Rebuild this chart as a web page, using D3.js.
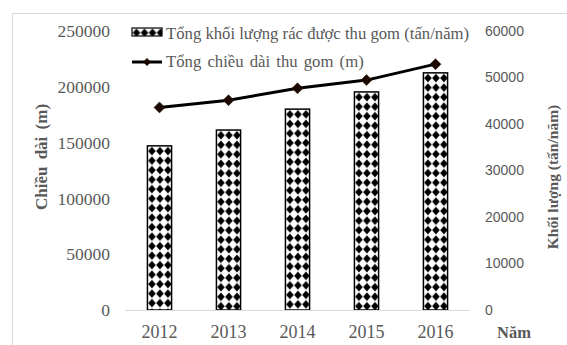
<!DOCTYPE html>
<html><head><meta charset="utf-8">
<script src="https://cdn.jsdelivr.net/npm/d3@7"></script>
<style>
html,body{margin:0;padding:0;background:#fff;}
svg{display:block;}
</style></head>
<body>
<svg id="chart" width="567" height="345"></svg>
<script>
const categories = ["2012","2013","2014","2015","2016"];
const volumeValues = [35300, 38700, 43200, 46900, 51000];      // Tổng khối lượng rác (tấn/năm) – right axis
const lengthValues = [181500, 188000, 198700, 206000, 220300];  // Tổng chiều dài thu gom (m) – left axis
const leftTicks = [0, 50000, 100000, 150000, 200000, 250000];
const rightTicks = [0, 10000, 20000, 30000, 40000, 50000, 60000];
const legendLabels = ["Tổng khối lượng rác được thu gom (tấn/năm)", "Tổng chiều dài thu gom (m)"];

const serif = "Liberation Serif, Times New Roman, serif";
const sans = "Liberation Sans, Arial, sans-serif";
const svg = d3.select("#chart");

// chart frame
svg.append("rect").attr("x",12.5).attr("y",13.5).attr("width",600).attr("height",400)
  .attr("fill","none").attr("stroke","#d9d9d9").attr("stroke-width",1);

const x = d3.scaleBand().domain(categories).range([125, 470]).paddingInner(0.65).paddingOuter(0.325);
const yL = d3.scaleLinear().domain([0, 250000]).range([310, 31]);
const yR = d3.scaleLinear().domain([0, 60000]).range([310, 31]);

const defs = svg.append("defs");
function makePattern(id, x0, y0){
  const p = defs.append("pattern").attr("id", id).attr("patternUnits","userSpaceOnUse")
    .attr("x", x0).attr("y", y0).attr("width", 8).attr("height", 9.5);
  p.append("rect").attr("width",8).attr("height",9.5).attr("fill","#fff");
  p.append("path").attr("d","M4,0.5 L7.8,4.75 L4,9 L0.2,4.75 Z").attr("fill","#000");
}

// bars
const barData = categories.map((c,i)=>({c, v: volumeValues[i], i}));
barData.forEach(d => makePattern("pat"+d.i, x(d.c)+0.5, yR(d.v)+0.5));
svg.append("g").selectAll("rect").data(barData).join("rect")
  .attr("x", d => x(d.c)).attr("y", d => yR(d.v))
  .attr("width", x.bandwidth()).attr("height", d => yR(0) - yR(d.v))
  .attr("fill", d => "url(#pat"+d.i+")").attr("stroke","#000").attr("stroke-width",1.5);

// bottom axis line
svg.append("line").attr("x1",125).attr("x2",470).attr("y1",310.5).attr("y2",310.5)
  .attr("stroke","#d9d9d9").attr("stroke-width",1.2);

// left axis
const gL = svg.append("g").attr("transform","translate(110,0)")
  .call(d3.axisLeft(yL).tickValues(leftTicks).tickSize(0).tickPadding(0).tickFormat(d3.format("d")));
gL.select(".domain").remove();
gL.selectAll("text").attr("font-family",serif).attr("font-size",17.5).attr("fill","#595959");

// right axis
const gR = svg.append("g").attr("transform","translate(485,0)")
  .call(d3.axisRight(yR).tickValues(rightTicks).tickSize(0).tickPadding(0).tickFormat(d3.format("d")));
gR.select(".domain").remove();
gR.selectAll("text").attr("font-family",sans).attr("font-size",14).attr("fill","#595959");

// bottom axis labels
const gB = svg.append("g").attr("transform","translate(0,310)")
  .call(d3.axisBottom(x).tickSize(0).tickPadding(15));
gB.select(".domain").remove();
gB.selectAll("text").attr("font-family",serif).attr("font-size",18).attr("fill","#595959");

svg.append("text").attr("x",497).attr("y",338).text("Năm")
  .attr("font-family",serif).attr("font-size",16.5).attr("font-weight","bold").attr("fill","#595959");

// axis titles
svg.append("text").attr("transform","translate(47,157) rotate(-90)").attr("text-anchor","middle")
  .text("Chiều dài (m)").attr("font-family",serif).attr("font-size",17).attr("font-weight","bold")
  .attr("fill","#595959").attr("word-spacing",3);
svg.append("text").attr("transform","translate(558,177) rotate(-90)").attr("text-anchor","middle")
  .text("Khối lượng (tấn/năm)").attr("font-family",serif).attr("font-size",15.5).attr("font-weight","bold")
  .attr("fill","#595959");

// line series
const lineData = categories.map((c,i)=>({c, v: lengthValues[i]}));
const line = d3.line().x(d => x(d.c) + x.bandwidth()/2).y(d => yL(d.v));
svg.append("path").datum(lineData).attr("d", line).attr("fill","none")
  .attr("stroke","#000").attr("stroke-width",3).attr("stroke-linejoin","round");
const diamond = "M0,-5.5 L5.5,0 L0,5.5 L-5.5,0 Z";
svg.append("g").selectAll("path").data(lineData).join("path")
  .attr("transform", d => `translate(${x(d.c)+x.bandwidth()/2},${yL(d.v)})`)
  .attr("d", diamond).attr("fill","#1a0800").attr("stroke","#2a1000").attr("stroke-width",0.5);

// legend
makePattern("patLeg", 132.5, 28);
svg.append("rect").attr("x",132).attr("y",28).attr("width",30).attr("height",8)
  .attr("fill","url(#patLeg)").attr("stroke","#000").attr("stroke-width",1.2);
svg.append("text").attr("x",166).attr("y",38.5).text(legendLabels[0])
  .attr("font-family",serif).attr("font-size",16.7).attr("fill","#595959");
svg.append("line").attr("x1",132).attr("x2",162).attr("y1",62).attr("y2",62)
  .attr("stroke","#000").attr("stroke-width",3);
svg.append("path").attr("transform","translate(147,62)").attr("d","M0,-4 L4,0 L0,4 L-4,0 Z")
  .attr("fill","#1a0800");
svg.append("text").attr("x",166).attr("y",67).text(legendLabels[1])
  .attr("font-family",serif).attr("font-size",16.7).attr("fill","#595959").attr("word-spacing",2);
</script>
</body></html>
